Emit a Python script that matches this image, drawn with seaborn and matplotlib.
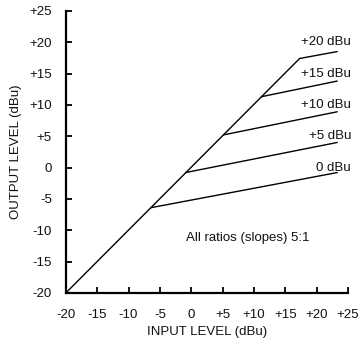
import pandas as pd
import matplotlib
matplotlib.use('Agg')
import matplotlib.pyplot as plt
import seaborn as sns

# Threshold curves
curve_labels = ['0 dBu', '+5 dBu', '+10 dBu', '+15 dBu', '+20 dBu']
label_levels = [0, 5, 10, 15, 20]
knee_in = [-6.4, -0.9, 5.1, 11.2, 17.3]
knee_out = [-6.4, -0.8, 5.2, 11.3, 17.4]
end_in = [23.3, 23.3, 23.3, 23.3, 23.3]
end_out = [-0.8, 4.0, 8.9, 13.8, 18.5]

# unity line
unity_in = [-20, 17.3]
unity_out = [-20, 17.4]

ticks = [-20, -15, -10, -5, 0, 5, 10, 15, 20, 25]
tick_labels = ['-20', '-15', '-10', '-5', '0', '+5', '+10', '+15', '+20', '+25']

rows = [{'curve': 'unity', 'inp': unity_in[i], 'out': unity_out[i], 'order': i} for i in range(2)]
for lab, ki, ko, ei, eo in zip(curve_labels, knee_in, knee_out, end_in, end_out):
    rows.append({'curve': lab, 'inp': ki, 'out': ko, 'order': 0})
    rows.append({'curve': lab, 'inp': ei, 'out': eo, 'order': 1})
df = pd.DataFrame(rows)

sns.set_style('white')
plt.rcParams['font.family'] = ['Liberation Sans', 'DejaVu Sans']

fs = 9.5
txt = '#111111'

fig = plt.figure(figsize=(3.62, 3.39), dpi=100)
ax = fig.add_axes([0.182, 0.136, 0.779, 0.832])

sns.lineplot(data=df, x='inp', y='out', units='curve', estimator=None, sort=False,
             color='black', linewidth=1.0, ax=ax, legend=False)

for lab, lev in zip(curve_labels, label_levels):
    ax.text(25.5, lev, lab, ha='right', va='center', fontsize=fs, color=txt)

ax.text(-0.9, -11.3, 'All ratios (slopes) 5:1', ha='left', va='center', fontsize=fs, color=txt)

ax.set_xlim(-20, 25)
ax.set_ylim(-20, 25)
ax.set_xticks(ticks)
ax.set_xticklabels(tick_labels)
ax.set_yticks(ticks)
ax.set_yticklabels(tick_labels)
ax.tick_params(axis='both', direction='in', length=4, width=1.3, color='black',
               labelsize=fs, labelcolor=txt, bottom=True, left=True)
ax.tick_params(axis='x', pad=11.5)
ax.tick_params(axis='y', pad=10)

sns.despine(ax=ax)
for side in ['left', 'bottom']:
    ax.spines[side].set_linewidth(1.6)
    ax.spines[side].set_color('black')

ax.set_xlabel('INPUT LEVEL (dBu)', fontsize=fs, color=txt, labelpad=4)
ax.set_ylabel('OUTPUT LEVEL (dBu)', fontsize=fs, color=txt, labelpad=5)

fig.savefig('out.png', dpi=100)
plt.close(fig)
